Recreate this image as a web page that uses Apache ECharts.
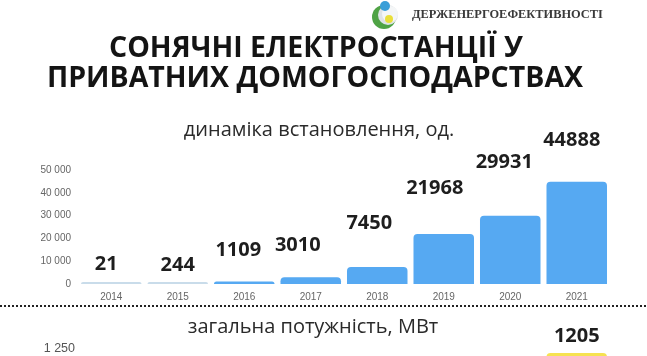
<!DOCTYPE html>
<html>
<head>
<meta charset="utf-8">
<script src="https://cdn.jsdelivr.net/npm/echarts@6/dist/echarts.min.js"></script>
<style>html,body{margin:0;padding:0;background:#fff}#c{width:647px;height:356px}</style>
</head>
<body>
<div id="c"></div>
<script>
const years = ['2014','2015','2016','2017','2018','2019','2020','2021'];
const installs = [21, 244, 1109, 3010, 7450, 21968, 29931, 44888];
const powerMW = ['-', '-', '-', '-', '-', '-', '-', 1205];
const installTicks = {min: 0, max: 50000, interval: 10000};
const powerTicks = {min: 0, max: 1250, interval: 250};
const titleLines = ['СОНЯЧНІ ЕЛЕКТРОСТАНЦІЇ У', 'ПРИВАТНИХ ДОМОГОСПОДАРСТВАХ'];
const subtitle1 = 'динаміка встановлення, од.';
const subtitle2 = 'загальна потужність, МВт';
const brand = 'ДЕРЖЕНЕРГОЕФЕКТИВНОСТІ';

// label placement tweaks (style only)
const labelLift = [8, 7, 21, 22, 34, 36, 43, 31];
const labelDx = [-5, 0, -6, -13, -8, -9, -6, -5];

const fmt = v => String(v).replace(/\B(?=(\d{3})+(?!\d))/g, ' ');
const chart = echarts.init(document.getElementById('c'));

chart.setOption({
  backgroundColor: '#fff',
  animation: false,
  grid: [
    {left: 78, right: 37, top: 170, height: 114, outerBoundsMode: 'none', containLabel: false},
    {left: 78, right: 37, top: 349, height: 112, outerBoundsMode: 'none', containLabel: false}
  ],
  xAxis: [
    {type: 'category', gridIndex: 0, data: years,
     axisLine: {show: false}, axisTick: {show: false},
     axisLabel: {color: '#666', fontSize: 10, margin: 8, fontFamily: 'Liberation Sans'}},
    {type: 'category', gridIndex: 1, data: years,
     axisLine: {show: false}, axisTick: {show: false}, axisLabel: {show: false}}
  ],
  yAxis: [
    {type: 'value', gridIndex: 0, ...installTicks,
     splitLine: {show: false}, axisLine: {show: false}, axisTick: {show: false},
     axisLabel: {color: '#666', fontSize: 10, margin: 7, formatter: fmt, fontFamily: 'Liberation Sans'}},
    {type: 'value', gridIndex: 1, ...powerTicks,
     splitLine: {show: false}, axisLine: {show: false}, axisTick: {show: false},
     axisLabel: {color: '#555', fontSize: 12.5, margin: 3, formatter: fmt, fontFamily: 'Liberation Sans'}}
  ],
  series: [
    {type: 'bar', xAxisIndex: 0, yAxisIndex: 0, barCategoryGap: '9%', barMinHeight: 2,
     data: installs.map((v, i) => ({
       value: v,
       label: {distance: labelLift[i], offset: [labelDx[i], 0]}
     })),
     itemStyle: {
       borderRadius: [4, 4, 0, 0],
       color: p => p.value < 500 ? '#c9dcea' : '#56a9f2'
     },
     label: {show: true, position: 'top', color: '#1e1e1e', fontSize: 20,
             fontWeight: 'bold', fontFamily: 'Open Sans'}},
    {type: 'bar', xAxisIndex: 1, yAxisIndex: 1, barCategoryGap: '9%',
     data: powerMW,
     itemStyle: {borderRadius: [4, 4, 0, 0], color: '#f6e250'},
     label: {show: true, position: 'top', distance: 7, color: '#1e1e1e', fontSize: 20,
             fontWeight: 'bold', fontFamily: 'Open Sans'}}
  ],
  graphic: [
    {type: 'text', x: 316, y: 49, style: {text: titleLines[0], align: 'center', verticalAlign: 'middle',
      font: 'bold 28.5px "Open Sans"', fill: '#141414'}},
    {type: 'text', x: 315, y: 79, style: {text: titleLines[1], align: 'center', verticalAlign: 'middle',
      font: 'bold 28.5px "Open Sans"', fill: '#141414'}},
    {type: 'text', x: 319, y: 130, style: {text: subtitle1, align: 'center', verticalAlign: 'middle',
      font: '20px "Open Sans"', fill: '#2a2a2a'}},
    {type: 'text', x: 313, y: 327, style: {text: subtitle2, align: 'center', verticalAlign: 'middle',
      font: '20px "Open Sans"', fill: '#2a2a2a'}},
    {type: 'text', x: 412, y: 15, style: {text: brand, align: 'left', verticalAlign: 'middle',
      font: 'bold 12.4px "Liberation Serif"', fill: '#3a3a3a'}},
    {type: 'line', shape: {x1: 0, y1: 306, x2: 647, y2: 306},
     style: {stroke: '#222', lineWidth: 2, lineDash: [2, 2]}},
    // logo
    {type: 'circle', shape: {cx: 384, cy: 17, r: 12}, style: {fill: '#4fa345'}},
    {type: 'circle', shape: {cx: 388, cy: 15, r: 10}, style: {fill: '#dfe3e6'}},
    {type: 'circle', shape: {cx: 390, cy: 14, r: 8}, style: {fill: '#f4f6f7'}},
    {type: 'circle', shape: {cx: 385, cy: 6, r: 5}, style: {fill: '#3a9fd8'}},
    {type: 'circle', shape: {cx: 389, cy: 19, r: 4}, style: {fill: '#e9df3a'}}
  ]
});
</script>
</body>
</html>
